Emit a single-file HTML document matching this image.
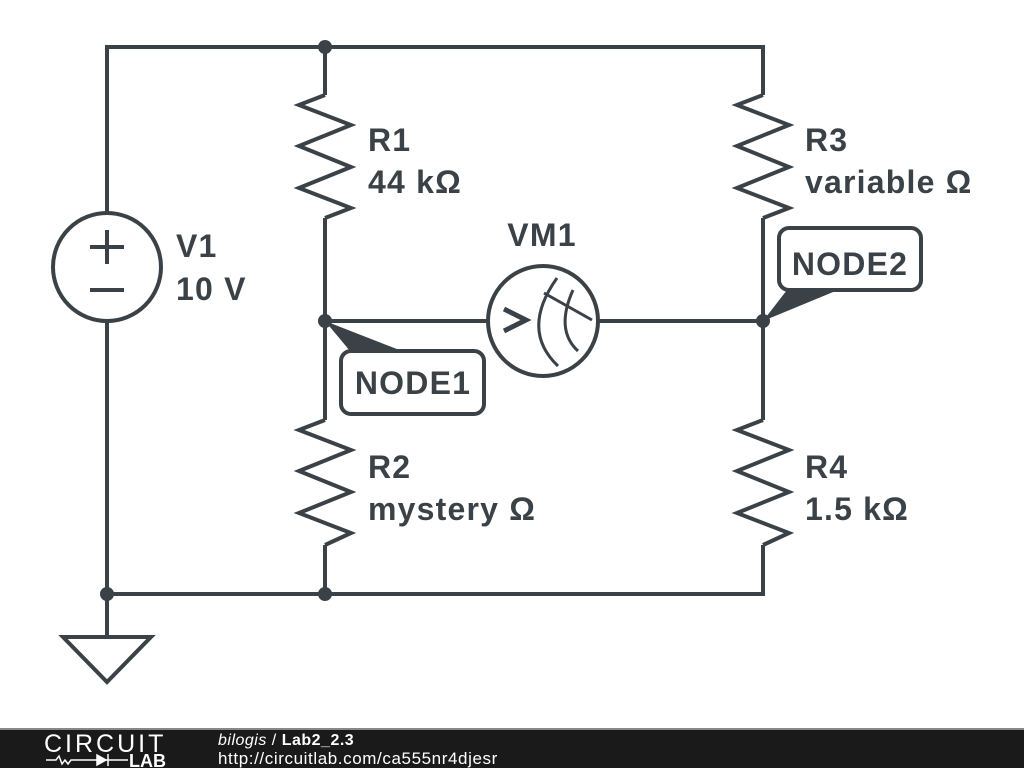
<!DOCTYPE html>
<html><head><style>
html,body{margin:0;padding:0;background:#fff;width:1024px;height:768px;overflow:hidden}
text{font-family:"Liberation Sans",sans-serif;font-weight:bold;fill:#3b4247}
</style></head><body>
<svg width="1024" height="768" viewBox="0 0 1024 768" xmlns="http://www.w3.org/2000/svg">
<g stroke="#3b4247" stroke-width="4" fill="none" stroke-linejoin="miter">
<path d="M107,213 V47 H763 V95"/>
<path d="M107,321 V594 H763 V545"/>
<path d="M107,594 V637"/>
<path d="M325,47 V95"/>
<path d="M325,218 V420"/>
<path d="M325,545 V594"/>
<path d="M763,218 V420"/>
<path d="M325,321 H487"/>
<path d="M597,321 H763"/>
<path d="M325,95 L299,105 L351,125 L299,146 L351,167 L299,188 L351,208 L325,218"/>
<path d="M763,95 L737,105 L789,125 L737,146 L789,167 L737,188 L789,208 L763,218"/>
<path d="M325,420 L299,430 L351,450 L299,471 L351,492 L299,513 L351,533 L325,545"/>
<path d="M763,420 L737,430 L789,450 L737,471 L789,492 L737,513 L789,533 L763,545"/>
<circle cx="107" cy="267" r="54"/>
<path d="M90,247 H124 M107,230 V264 M90,290 H124"/>
<path d="M63,637 H151 L107,682 Z"/>
<circle cx="543" cy="321" r="55"/>
<path d="M504,309 L526,320 L504,331" stroke-width="5"/>
<path d="M557,278 Q520,330 558,366" stroke-width="3"/>
<path d="M573,290 Q555,330 578,351" stroke-width="3"/>
<path d="M544,293 L592,320" stroke-width="3"/>
<rect x="341" y="351" width="143" height="63" rx="10"/>
<rect x="779" y="228" width="142" height="62" rx="10"/>
</g>
<g fill="#3b4247">
<circle cx="325" cy="47" r="7"/>
<circle cx="325" cy="321" r="7"/>
<circle cx="763" cy="321" r="7"/>
<circle cx="107" cy="594" r="7"/>
<circle cx="325" cy="594" r="7"/>
<path d="M325,321 L350,351 L402,351 Z"/>
<path d="M763,321 L787,290 L838,290 Z"/>
</g>
<g font-size="32" letter-spacing="1.2">
<text x="368" y="151">R1</text>
<text x="368" y="193">44 kΩ</text>
<text x="805" y="151">R3</text>
<text x="805" y="193">variable Ω</text>
<text x="368" y="520" y2="0"></text>
<text x="368" y="478">R2</text>
<text x="368" y="520">mystery Ω</text>
<text x="805" y="478">R4</text>
<text x="805" y="520">1.5 kΩ</text>
<text x="176" y="257">V1</text>
<text x="176" y="300">10 V</text>
<text x="542" y="246" text-anchor="middle">VM1</text>
<text x="413" y="394" text-anchor="middle">NODE1</text>
<text x="850" y="275" text-anchor="middle">NODE2</text>
</g>
<rect x="0" y="728" width="1024" height="40" fill="#1a1a1a"/>
<rect x="0" y="728" width="1024" height="2" fill="#888"/>
<text x="44" y="752" font-size="25" letter-spacing="3" style="font-weight:normal;fill:#fff">CIRCUIT</text>
<path d="M46,760 H56 l3,-4 3,8 3,-4 3,4 3,-4 H86 M86,760 H128" stroke="#fff" stroke-width="1.5" fill="none"/>
<path d="M97,755 L106,760 L97,765 Z M108,754 V766" fill="#fff" stroke="#fff" stroke-width="1.5"/>
<text x="129" y="767" font-size="18" style="fill:#fff">LAB</text>
<text x="218" y="745" font-size="16" style="fill:#fff;font-weight:normal" letter-spacing="0.5"><tspan font-style="italic">bilogis</tspan> / <tspan font-weight="bold">Lab2_2.3</tspan></text>
<text x="218" y="764" font-size="17" style="fill:#fff;font-weight:normal" letter-spacing="0.6">http://circuitlab.com/ca555nr4djesr</text>
</svg>
</body></html>
